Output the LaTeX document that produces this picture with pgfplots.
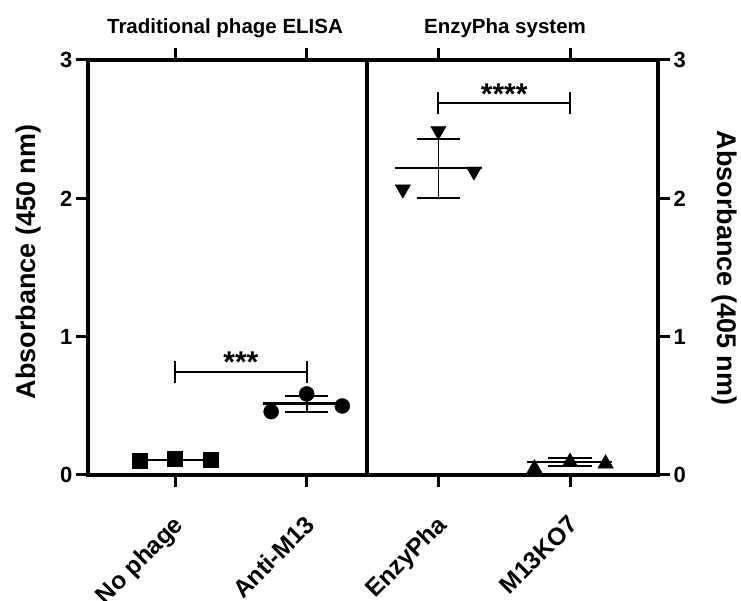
\documentclass[border=0pt]{standalone}
\usepackage{fontspec}
\setmainfont{Liberation Sans}
\usepackage{pgfplots}
\pgfplotsset{compat=1.18}
\begin{document}
\begin{tikzpicture}[x=1pt,y=1pt]
\path[use as bounding box] (0,0) rectangle (741,601);
\begin{axis}[
  at={(88pt,126pt)}, anchor=south west,
  width=570pt, height=415pt, scale only axis,
  xmin=-0.661, xmax=3.668, ymin=0, ymax=3,
  clip=false,
  axis line style={line width=3.2pt},
  xtick={0,1,2,3},
  xticklabels={No phage,Anti-M13,EnzyPha,M13KO7},
  xtick pos=both, xticklabel pos=lower,
  ytick={0,1,2,3}, ytick pos=left,
  tick align=outside,
  major tick length=12pt,
  every tick/.style={line width=3pt, black},
  /pgf/number format/assume math mode=true,
  yticklabel style={font=\bfseries\fontsize{22}{22}\selectfont},
  xticklabel shift=22pt,
  xticklabel style={font=\bfseries\fontsize{24.5}{24.5}\selectfont, xshift=-3pt, rotate=45, anchor=north east},
]
% divider
\addplot[line width=3.2pt] coordinates {(1.458,0) (1.458,3)};
% No phage
\addplot[line width=2.4pt] coordinates {(-0.33,0.11) (0.33,0.11)};
\addplot[only marks, mark=square*, mark size=7.5pt] coordinates {(-0.27,0.105) (0,0.115) (0.27,0.11)};
% Anti-M13
\addplot[line width=2.4pt] coordinates {(0.67,0.518) (1.32,0.518)};
\addplot[line width=2pt] coordinates {(1,0.453) (1,0.573)};
\addplot[line width=2pt] coordinates {(0.835,0.573) (1.165,0.573)};
\addplot[line width=2pt] coordinates {(0.835,0.453) (1.165,0.453)};
\addplot[only marks, mark=*, mark size=7.5pt] coordinates {(0.73,0.458) (1,0.586) (1.27,0.499)};
% EnzyPha
\addplot[line width=2.4pt] coordinates {(1.67,2.218) (2.33,2.218)};
\addplot[line width=1.4pt] coordinates {(2,2.0) (2,2.432)};
\addplot[line width=2pt] coordinates {(1.835,2.432) (2.165,2.432)};
\addplot[line width=2pt] coordinates {(1.835,2.0) (2.165,2.0)};
\addplot[only marks, mark=triangle*, mark size=8.8pt, mark options={rotate=180}] coordinates {(1.73,2.065) (2,2.487) (2.27,2.195)};
% M13KO7
\addplot[line width=2.4pt] coordinates {(2.67,0.092) (3.32,0.092)};
\addplot[line width=2pt] coordinates {(3,0.065) (3,0.125)};
\addplot[line width=2pt] coordinates {(2.835,0.125) (3.165,0.125)};
\addplot[line width=2pt] coordinates {(2.835,0.065) (3.165,0.065)};
\addplot[only marks, mark=triangle*, mark size=9pt] coordinates {(2.73,0.046) (3,0.094) (3.27,0.082)};
% significance brackets
\addplot[line width=2.2pt] coordinates {(0,0.746) (1,0.746)};
\addplot[line width=2.2pt] coordinates {(0,0.666) (0,0.826)};
\addplot[line width=2.2pt] coordinates {(1,0.666) (1,0.826)};
\addplot[line width=2.2pt] coordinates {(2,2.688) (3,2.688)};
\addplot[line width=2.2pt] coordinates {(2,2.608) (2,2.768)};
\addplot[line width=2.2pt] coordinates {(3,2.608) (3,2.768)};
\node[anchor=base, font=\bfseries\fontsize{30}{30}\selectfont] at (axis cs:0.5,0.741) {***};
\node[anchor=base, font=\bfseries\fontsize{30}{30}\selectfont] at (axis cs:2.5,2.677) {****};
\end{axis}
\begin{axis}[
  at={(88pt,126pt)}, anchor=south west,
  width=570pt, height=415pt, scale only axis,
  xmin=0, xmax=1, ymin=0, ymax=3,
  axis x line=none, axis y line*=right,
  axis line style={line width=3.2pt},
  ytick={0,1,2,3},
  tick align=outside,
  major tick length=12pt,
  every tick/.style={line width=3pt, black},
  /pgf/number format/assume math mode=true,
  yticklabel style={font=\bfseries\fontsize{22}{22}\selectfont},
]
\end{axis}
\node[rotate=90, anchor=base, font=\bfseries\fontsize{27}{27}\selectfont] at (35,339) {Absorbance (450 nm)};
\node[rotate=-90, anchor=base, font=\bfseries\fontsize{27}{27}\selectfont] at (717,333) {Absorbance (405 nm)};
\node[anchor=base, font=\bfseries\fontsize{20.5}{20.5}\selectfont] at (225,567) {Traditional phage ELISA};
\node[anchor=base, font=\bfseries\fontsize{20.5}{20.5}\selectfont] at (505,567) {EnzyPha system};
\end{tikzpicture}
\end{document}
